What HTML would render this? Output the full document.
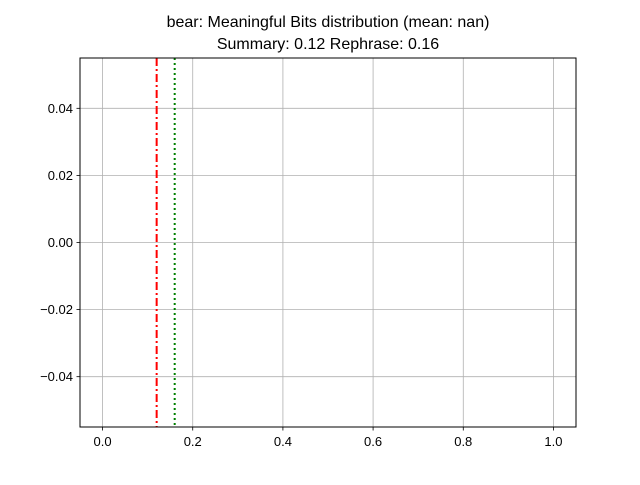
<!DOCTYPE html>
<html><head><meta charset="utf-8"><style>
body{margin:0;background:#fff}
svg text{font-family:"Liberation Sans","DejaVu Sans",sans-serif;fill:#000}
</style></head><body>
<svg id="chart" width="640" height="480" xmlns="http://www.w3.org/2000/svg">
<rect width="640" height="480" fill="#fff"/>
<text x="328" y="27" font-size="16" text-anchor="middle">bear: Meaningful Bits distribution (mean: nan)</text>
<text x="328" y="49" font-size="16" text-anchor="middle">Summary: 0.12 Rephrase: 0.16</text>
<g id="grid"></g>
<g id="marks"></g>
<rect x="80" y="58" width="496" height="369" fill="none" stroke="#000" stroke-width="1"/>
<g id="ticks"></g>
</svg>
<script>
const xTicks=[0.0,0.2,0.4,0.6,0.8,1.0];
const xTickLabels=["0.0","0.2","0.4","0.6","0.8","1.0"];
const yTicks=[0.04,0.02,0.0,-0.02,-0.04];
const yTickLabels=["0.04","0.02","0.00","\u22120.02","\u22120.04"];
const vlineNames=["summary","rephrase"];
const vlineValues=[0.12,0.16];
const vlineColors=["#ff0000","#008000"];
const vlineDash=["8,3,2,3","2,3"];
const X0=80,X1=576,Y0=58,Y1=427;
const xmin=-0.05,xmax=1.05,ymin=-0.055,ymax=0.055;
function sx(v){return X0+(v-xmin)/(xmax-xmin)*(X1-X0);}
function sy(v){return Y1-(v-ymin)/(ymax-ymin)*(Y1-Y0);}
const NS="http://www.w3.org/2000/svg";
function mk(t,a,p){const e=document.createElementNS(NS,t);for(const k in a)e.setAttribute(k,a[k]);p.appendChild(e);return e;}
const grid=document.getElementById('grid'),ticks=document.getElementById('ticks'),marks=document.getElementById('marks');
xTicks.forEach((v,i)=>{const x=sx(v);
 const g=mk('line',{x1:x,x2:x,y1:Y0,y2:Y1,stroke:'#b0b0b0','stroke-width':0.8},grid);
 
 
 const t=mk('line',{x1:x,x2:x,y1:Y1,y2:Y1+3.5,stroke:'#000','stroke-width':0.8},ticks);
 
 
 const l=mk('text',{x:x,y:Y1+19,'font-size':13,'text-anchor':'middle'},ticks);l.textContent=xTickLabels[i];
 
 
});
yTicks.forEach((v,i)=>{const y=sy(v);
 const g=mk('line',{x1:X0,x2:X1,y1:y,y2:y,stroke:'#b0b0b0','stroke-width':0.8},grid);
 
 
 const t=mk('line',{x1:X0-3.5,x2:X0,y1:y,y2:y,stroke:'#000','stroke-width':0.8},ticks);
 
 
 const l=mk('text',{x:X0-7,y:y+4.5,'font-size':13,'text-anchor':'end'},ticks);l.textContent=yTickLabels[i];
 
 
});
vlineValues.forEach((v,i)=>{const x=sx(v);
 const l=mk('line',{x1:x,x2:x,y1:Y0,y2:Y1,stroke:vlineColors[i],'stroke-width':2,'stroke-dasharray':vlineDash[i]},marks);
 
 
});
</script>
</body></html>
